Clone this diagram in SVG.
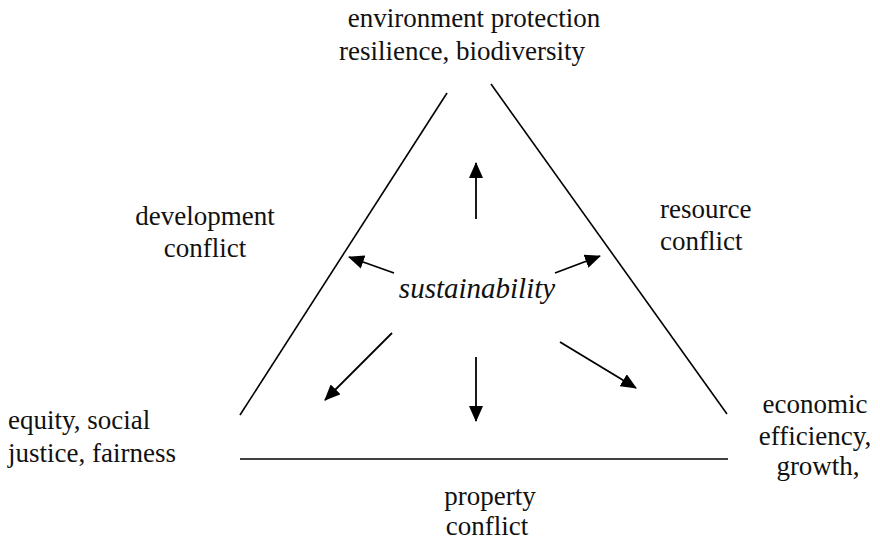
<svg xmlns="http://www.w3.org/2000/svg" width="880" height="541" viewBox="0 0 880 541" font-family="Times New Roman, Liberation Serif, serif">
  <defs>
    <marker id="head" markerUnits="userSpaceOnUse" markerWidth="16" markerHeight="14" refX="15" refY="7" orient="auto">
      <path d="M0,0 L16,7 L0,14 Z" fill="#000"/>
    </marker>
  </defs>
  <rect width="880" height="541" fill="#fff"/>

  <!-- triangle sides -->
  <g id="sides" stroke="#000" stroke-width="1.6" fill="none">
    <line x1="447" y1="93" x2="240" y2="415"/>
    <line x1="491" y1="84" x2="727" y2="414"/>
    <line x1="240" y1="459" x2="728" y2="459"/>
  </g>

  <!-- arrows radiating from the centre -->
  <g id="connectors" stroke="#000" stroke-width="1.8" fill="none" marker-end="url(#head)">
    <line x1="476" y1="219" x2="476" y2="163"/>
    <line x1="394" y1="273" x2="349" y2="257"/>
    <line x1="555" y1="273" x2="600" y2="256"/>
    <line x1="392" y1="333" x2="325" y2="400"/>
    <line x1="476" y1="357" x2="476" y2="421"/>
    <line x1="560" y1="342" x2="636" y2="388"/>
  </g>

  <text id="sustainability" x="477" y="298" text-anchor="middle" font-family="serif" font-size="29" font-style="italic" fill="#111">sustainability</text>

  <g id="environment" text-anchor="middle" font-family="serif" font-size="27" fill="#111">
    <text x="474" y="27" font-family="serif">environment protection</text>
    <text x="462" y="60" font-family="serif">resilience, biodiversity</text>
  </g>

  <g id="development-conflict" text-anchor="middle" font-family="serif" font-size="27" fill="#111">
    <text x="205" y="225" font-family="serif">development</text>
    <text x="205" y="257" font-family="serif">conflict</text>
  </g>

  <g id="resource-conflict" font-family="serif" font-size="27" fill="#111">
    <text x="660" y="218" font-family="serif">resource</text>
    <text x="660" y="250" font-family="serif">conflict</text>
  </g>

  <g id="equity" font-family="serif" font-size="27" fill="#111">
    <text x="8" y="429" font-family="serif">equity, social</text>
    <text x="8" y="462" font-family="serif">justice, fairness</text>
  </g>

  <g id="economic" text-anchor="middle" font-family="serif" font-size="27" fill="#111">
    <text x="815" y="413" font-family="serif">economic</text>
    <text x="815" y="445" font-family="serif">efficiency,</text>
    <text x="818" y="475" font-family="serif">growth,</text>
  </g>

  <g id="property-conflict" text-anchor="middle" font-family="serif" font-size="27" fill="#111">
    <text x="490" y="505" font-family="serif">property</text>
    <text x="487" y="535" font-family="serif">conflict</text>
  </g>
</svg>
